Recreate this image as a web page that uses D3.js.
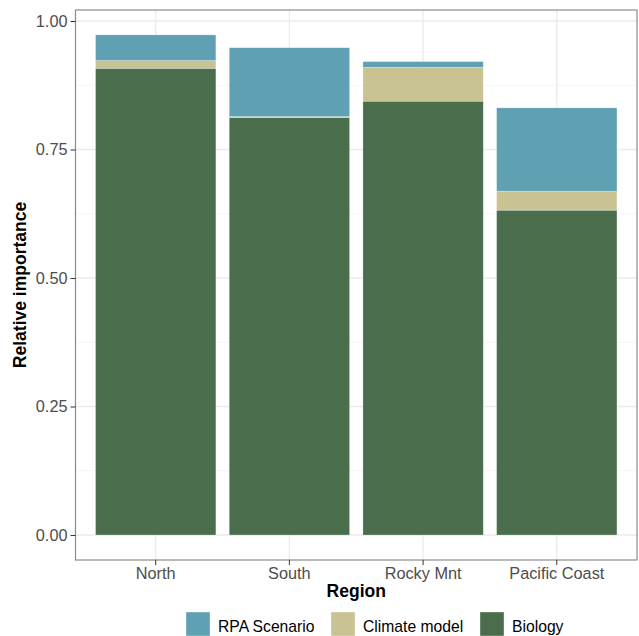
<!DOCTYPE html>
<html><head><meta charset="utf-8">
<script src="https://cdn.jsdelivr.net/npm/d3@7"></script>
<style>body{margin:0;background:#fff;} svg{display:block;}</style>
</head><body>
<svg id="chart" width="639" height="636"></svg>
<script>
const regions = ["North", "South", "Rocky Mnt", "Pacific Coast"];
const biology = [0.908, 0.812, 0.844, 0.632];
const climateModel = [0.015, 0.002, 0.066, 0.037];
const rpaScenario = [0.050, 0.134, 0.011, 0.162];
const seriesNames = ["Biology", "Climate model", "RPA Scenario"];
const legendOrder = ["RPA Scenario", "Climate model", "Biology"];
const seriesColors = {"Biology": "#4a6e4b", "Climate model": "#c9c393", "RPA Scenario": "#5fa1b3"};
const yTicks = [0, 0.25, 0.5, 0.75, 1.0];
const yMinor = [0.125, 0.375, 0.625, 0.875];

const rows = regions.map((r, i) => ({region: r, "Biology": biology[i], "Climate model": climateModel[i], "RPA Scenario": rpaScenario[i]}));
const stacked = d3.stack().keys(seriesNames)(rows);

const svg = d3.select("#chart");
const font = "'Liberation Sans', Arial, Helvetica, sans-serif";
const P = {left: 75.5, right: 637, top: 10, bottom: 560};

const x = d3.scaleBand().domain(regions).range([P.left, P.right]).paddingInner(0.1).paddingOuter(0.15);
const y = d3.scaleLinear().domain([-0.0486, 1.0214]).range([P.bottom, P.top]);

const g = svg.append("g");
g.append("rect").attr("x", P.left).attr("y", P.top).attr("width", P.right - P.left).attr("height", P.bottom - P.top).attr("fill", "#fff");
g.selectAll(".minor").data(yMinor).join("line")
  .attr("x1", P.left).attr("x2", P.right).attr("y1", d => y(d)).attr("y2", d => y(d))
  .attr("stroke", "#f2f2f2").attr("stroke-width", 0.8);
g.selectAll(".major").data(yTicks).join("line")
  .attr("x1", P.left).attr("x2", P.right).attr("y1", d => y(d)).attr("y2", d => y(d))
  .attr("stroke", "#ebebeb").attr("stroke-width", 1.3);
g.selectAll(".vgrid").data(regions).join("line")
  .attr("x1", d => x(d) + x.bandwidth() / 2).attr("x2", d => x(d) + x.bandwidth() / 2)
  .attr("y1", P.top).attr("y2", P.bottom)
  .attr("stroke", "#ebebeb").attr("stroke-width", 1.3);

stacked.forEach(s => {
  g.append("g").selectAll("rect").data(s).join("rect")
    .attr("x", d => x(d.data.region))
    .attr("width", x.bandwidth())
    .attr("y", d => y(d[1]))
    .attr("height", d => Math.max(0, y(d[0]) - y(d[1])))
    .attr("fill", seriesColors[s.key])
    .attr("stroke", "rgba(255,255,255,0.4)").attr("stroke-width", 0.6);
});

g.append("rect").attr("x", P.left).attr("y", P.top).attr("width", P.right - P.left).attr("height", P.bottom - P.top)
  .attr("fill", "none").attr("stroke", "#8c8c8c").attr("stroke-width", 1.2);

const yAxis = svg.append("g").attr("transform", `translate(${P.left},0)`)
  .call(d3.axisLeft(y).tickValues(yTicks).tickFormat(d3.format(".2f")).tickSize(5).tickPadding(3));
const xAxis = svg.append("g").attr("transform", `translate(0,${P.bottom})`)
  .call(d3.axisBottom(x).tickSize(5).tickPadding(2));
[yAxis, xAxis].forEach(a => {
  a.select(".domain").remove();
  a.selectAll(".tick line").attr("stroke", "#333").attr("stroke-width", 1);
  a.selectAll(".tick text").attr("fill", "#4d4d4d").style("font-family", font).style("font-size", "16.3px");
});

svg.append("text").attr("x", (P.left + P.right) / 2).attr("y", 597).attr("text-anchor", "middle")
  .style("font-family", font).style("font-size", "17.5px").style("font-weight", "bold").text("Region");
svg.append("text").attr("transform", `translate(26,${(P.top + P.bottom) / 2}) rotate(-90)`).attr("text-anchor", "middle")
  .style("font-family", font).style("font-size", "17.5px").style("font-weight", "bold").text("Relative importance");

const legendX = [186, 331, 480];
const lg = svg.append("g");
legendOrder.forEach((k, i) => {
  lg.append("rect").attr("x", legendX[i]).attr("y", 612).attr("width", 24).attr("height", 24)
    .attr("fill", seriesColors[k]).attr("stroke", "rgba(255,255,255,0.6)").attr("stroke-width", 0.6);
  lg.append("text").attr("x", legendX[i] + 32).attr("y", 632)
    .style("font-family", font).style("font-size", "15.7px").attr("fill", "#000").text(k);
});
</script>
</body></html>
